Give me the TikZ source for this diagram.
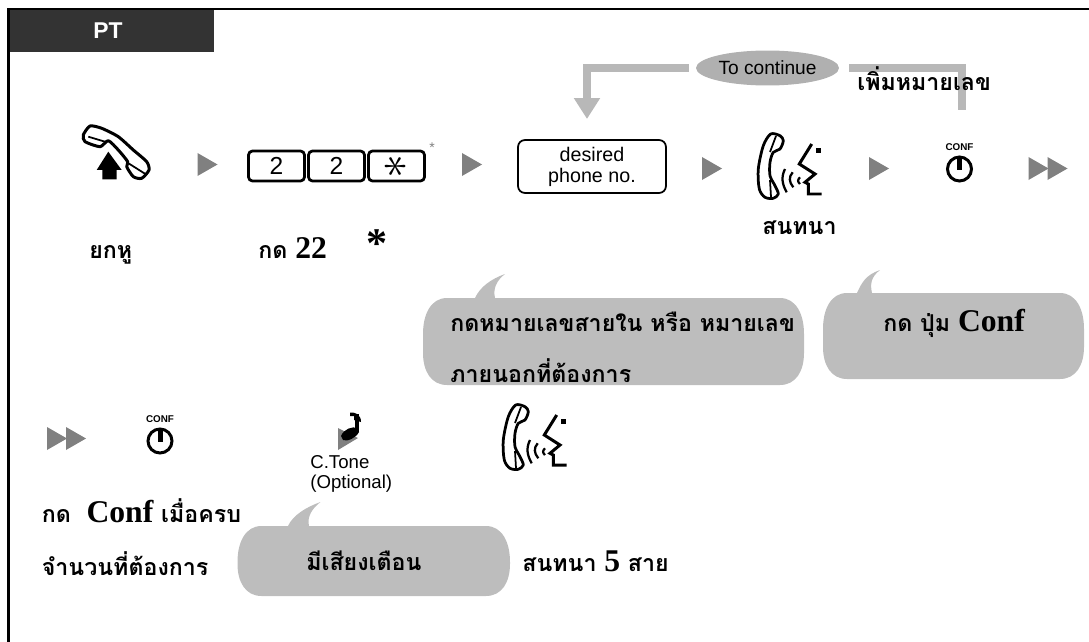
\documentclass[tikz,border=0pt]{standalone}
\usepackage{fontspec}
\usepackage{graphicx}
\usetikzlibrary{shapes.geometric}
\usetikzlibrary{arrows.meta}
\setmainfont{Liberation Serif}
\setsansfont{Liberation Sans}
\newfontfamily\thaifont[Script=Thai]{Loma}
\definecolor{headbar}{RGB}{51,51,51}
\definecolor{stepgray}{RGB}{128,128,128}
\definecolor{loopgray}{RGB}{184,184,184}
\definecolor{ovalgray}{RGB}{176,176,176}
\definecolor{bubblegray}{RGB}{189,189,189}
\newcommand{\serifbig}[1]{{\rmfamily\bfseries\fontsize{18}{20}\selectfont #1}}
\newcommand{\speechbubble}[8]{\fill[bubblegray] (#5,#2) .. controls (#5+5,#2-11) and (#7-14,#8+5) .. (#7,#8) .. controls (#7-9,#8+7) and (#6-2,#2-9) .. (#6,#2) -- (#3-24,#2) .. controls (#3-8,#2) and (#3,#2+16) .. (#3,#2+36) -- (#3,#4-32) .. controls (#3,#4-14) and (#3-8,#4) .. (#3-24,#4) -- (#1+24,#4) .. controls (#1+8,#4) and (#1,#4-14) .. (#1,#4-32) -- (#1,#2+36) .. controls (#1,#2+16) and (#1+8,#2) .. (#1+24,#2) -- cycle;}
\tikzset{
  stepmark/.pic={\fill[stepgray] (0,-11.5) -- (20,0) -- (0,11.5) -- cycle;},
  twomark/.pic={\fill[stepgray] (0,-11.5) -- (20,0) -- (0,11.5) -- cycle; \fill[stepgray] (19,-11.5) -- (39,0) -- (19,11.5) -- cycle;},
  confkey/.pic={
    \node[font=\sffamily\bfseries\fontsize{5.6}{6}\selectfont, inner sep=0pt] (-top) at (0,-22) {CONF};
    \draw[line width=0.06cm] (0,0) circle (12);
    \draw[line width=0.1cm] (0,-12) -- (0,1);
  },
  talkicon/.pic={
    \draw[line width=0.055cm, line join=round] plot[smooth cycle, tension=0.5] coordinates {(13.7,0) (23,1.7) (26.3,6.7) (23,15) (16.3,18.3) (13,28.3) (13,41.7) (18,51.7) (21.3,60) (16.3,64.3) (8,63.3) (2.3,55) (1.3,35) (6.3,11.7)};
    \draw[line width=0.035cm] (19,2) -- (13,18) (13,46) -- (14,63);
    \draw[line width=0.06cm] (54.7,10) -- (42.3,30) -- (58,40) -- (48,48.3) -- (51.3,50) -- (51.3,60) -- (64.7,60);
    \fill (58.8,14.2) rectangle (63.8,19.2);
    \draw[line width=0.045cm] (28,35) .. controls (24,43) and (25,50) .. (29.7,58.3);
    \draw[line width=0.045cm] (35.7,38.3) .. controls (31.5,43) and (32,48) .. (36.3,53.3);
    \draw[line width=0.045cm] (43,43.3) .. controls (40.5,45.5) and (40.5,48) .. (43,50);
  },
  liftset/.pic={
    \draw[line width=0.06cm, line join=round] plot[smooth cycle, tension=0.4] coordinates {(15,6) (26.7,8.3) (43.3,16.7) (58.3,30) (71.7,41.7) (74,50) (66.7,58.3) (58.3,56.7) (51.7,46.7) (52.7,41.7) (43.3,30) (33.3,20.7) (25,26.7) (10,21.7) (8.3,15)};
    \draw[line width=0.035cm] (13.3,16.7) -- (30,21.7) (53,43) -- (72,55);
    \fill (33.3,31.7) -- (46.7,50) -- (41.7,50) -- (41.7,59.3) -- (27.3,59.3) -- (27.3,50) -- (21.7,50) -- cycle;
  },
  notemark/.pic={
    \fill[stepgray] (338,428) -- (358,438) -- (338,450) -- cycle;
    \fill (341,436) .. controls (344,429) and (352,426) .. (358,428) -- (359,432) .. controls (356,438) and (347,442) .. (343,440) -- cycle;
    \draw[line width=0.085cm] (357,432) -- (357,414);
    \fill (350,412.5) .. controls (356,412) and (361,415) .. (361,422) -- (354,420) -- (354,416) -- (350,416) -- cycle;
  }
}
\begin{document}
\begin{tikzpicture}[x=0.02cm, y=-0.02cm,
  thailabel/.style={anchor=base west, inner sep=0pt, font=\thaifont\bfseries\fontsize{13.2}{15}\selectfont},
  keycap/.style={draw, line width=0.055cm, rounded corners=0.08cm, minimum width=1.12cm, minimum height=0.6cm, inner sep=0pt, font=\sffamily\fontsize{14}{16}\selectfont},
  phrase/.style={anchor=base west, inner sep=0pt, align=left, font=\sffamily\fontsize{10.6}{11.5}\selectfont}]
\useasboundingbox (0,0) rectangle (1089,642);
\coordinate (framebottom) at (8.5,642);
\coordinate (frametop) at (8.5,9);
\coordinate (frameright) at (1089,9);
\draw[line width=0.055cm] (framebottom) -- (frametop) -- (frameright);
\node[fill=headbar, minimum width=4.1cm, minimum height=0.84cm, inner sep=0pt, text=white, font=\sffamily\bfseries\fontsize{13}{15}\selectfont](head) at (112,31) {\mbox{PT\kern0.16cm}};

\pic at (75,120) {liftset};
\pic at (197.5,164.5) {stepmark};
\node[keycap](key0) at (276.5,166) {2};
\node[keycap](key1) at (336.5,166) {2};
\node[keycap](key2) at (396.5,166) {\rotatebox{90}{\scalebox{1.9}{$\ast$}}};
\node[inner sep=0pt, text=stepgray, font=\sffamily\fontsize{8}{8}\selectfont](keymark) at (432,148) {*};
\pic at (462,164.5) {stepmark};
\node[draw, line width=0.035cm, rounded corners=0.14cm, minimum width=2.96cm, minimum height=1.06cm, inner sep=0pt, align=center, font=\sffamily\fontsize{11.2}{11.9}\selectfont](desired) at (592,166.5) {desired\\phone no.};
\pic at (702,168.5) {stepmark};
\pic at (757,134) {talkicon};
\pic at (869,168.5) {stepmark};
\pic (conf0) at (959.5,169) {confkey};
\pic at (1028.5,168.5) {twomark};

\node[ellipse, fill=ovalgray, minimum width=2.86cm, minimum height=0.7cm, inner sep=0pt, font=\sffamily\fontsize{10.9}{12}\selectfont](cont) at (767.5,68) {To continue};
\coordinate (loopstart) at (962,110);
\coordinate (loopend) at (587,119);
\draw[loopgray, line width=0.16cm, shorten >=0.2cm] (loopstart) |- (cont.east);
\draw[loopgray, line width=0.16cm, shorten <=0.14cm, -{Triangle[width=0.5cm, length=0.42cm]}] (cont.west) -| (loopend);
\node[thailabel](addno) at (857,91) {เพิ่มหมายเลข};
\node[thailabel](talk0) at (762,235) {สนทนา};
\node[thailabel](lift) at (89,258) {ยกหู};
\node[thailabel](press) at (258,258) {กด \serifbig{22}};
\node[inner sep=0pt, font=\rmfamily\bfseries\fontsize{24}{24}\selectfont](star) at (377,244) {*};

\speechbubble{423}{298}{804}{385}{475}{495}{505}{274}
\node[thailabel](note0) at (450,331) {กดหมายเลขสายใน หรือ หมายเลข};
\node[thailabel](note1) at (450,382) {ภายนอกที่ต้องการ};
\speechbubble{823}{293}{1084}{379}{857}{872}{880}{270}
\node[thailabel](note2) at (883,331) {กด ปุ่ม \serifbig{Conf}};

\pic at (47,438.5) {twomark};
\pic (conf1) at (160,441) {confkey};
\pic at (0,0) {notemark};
\node[phrase](tone0) at (310,468) {C.Tone};
\node[phrase](tone1) at (310,488) {(Optional)};
\pic at (502,405) {talkicon};

\node[thailabel](done0) at (41.5,522) {กด\ \ \serifbig{Conf} เมื่อครบ};
\node[thailabel](done1) at (41.5,575) {จำนวนที่ต้องการ};
\speechbubble{237.5}{526}{510}{596}{288}{309}{320.5}{502}
\node[thailabel](note3) at (306,570) {มีเสียงเตือน};
\node[thailabel](talk1) at (522,571) {สนทนา \serifbig{5} สาย};
\end{tikzpicture}
\end{document}
